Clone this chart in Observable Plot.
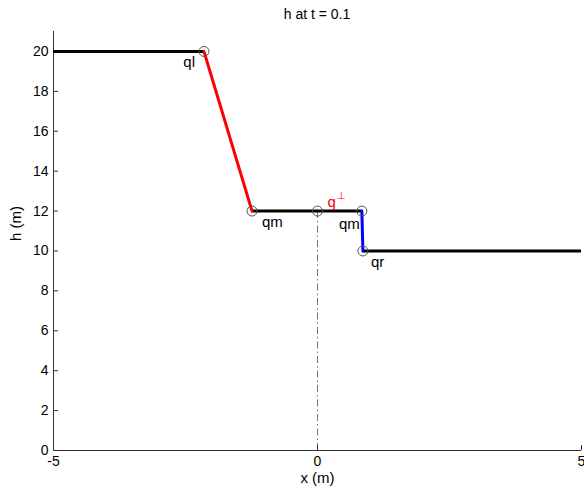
<!DOCTYPE html>
<html>
<head>
<meta charset="utf-8">
<script src="https://cdn.jsdelivr.net/npm/d3@7"></script>
<script src="https://cdn.jsdelivr.net/npm/@observablehq/plot@0.6"></script>
<style>
  body { margin: 0; background: #fff; font-family: "Liberation Sans", Arial, sans-serif; }
  #title { height: 26px; line-height: 28px; margin-left: 53px; width: 528px; text-align: center; font-size: 14px; color: #000; }
</style>
</head>
<body>
<div id="title">h at t = 0.1</div>
<div id="chart"></div>
<script>
// Constant states: left, middle and right plateaus of h
const plateauX1 = [-5, -1.24, 0.86];
const plateauX2 = [-2.15, 0.84, 5];
const plateauH = [20, 12, 10];

// Rarefaction fan (left wave) and shock (right wave)
const fanX = [-2.15, -1.24];
const fanH = [20, 12];
const shockX = [0.84, 0.86];
const shockH = [12, 10];

// Marked states
const pointNames = ["ql", "qm", "q", "qm", "qr"];
const pointX = [-2.15, -1.24, 0, 0.84, 0.86];
const pointH = [20, 12, 12, 12, 10];
const starIndex = 2;

// Axis ticks
const xTicks = [-5, 0, 5];
const yTicks = [0, 2, 4, 6, 8, 10, 12, 14, 16, 18, 20];

// Layout
const W = 584, H = 470;
const mL = 53, mR = 3, mT = 5, mB = 46;
const plotW = W - mL - mR, plotH = H - mT - mB;
const axisColor = "#333";
const fontSize = 14;

const points = pointX.map((x, i) => ({x, h: pointH[i], name: pointNames[i]}));
const fan = fanX.map((x, i) => ({x, h: fanH[i]}));
const shock = shockX.map((x, i) => ({x, h: shockH[i]}));

// label placement relative to each marked point (pixels)
const labelPlace = [
  {dx: -9, dy: 11, anchor: "end", color: "#000"},
  {dx: 10, dy: 11, anchor: "start", color: "#000"},
  {dx: 10, dy: -9, anchor: "start", color: "#f00"},
  {dx: -2, dy: 13, anchor: "end", color: "#000"},
  {dx: 8, dy: 11, anchor: "start", color: "#000"}
];

const labelMarks = points.map((p, i) => Plot.text([p], {
  x: "x", y: "h", text: "name",
  dx: labelPlace[i].dx, dy: labelPlace[i].dy,
  textAnchor: labelPlace[i].anchor, fill: labelPlace[i].color,
  fontSize: 15
}));

const chart = Plot.plot({
  width: W, height: H,
  marginLeft: mL, marginRight: mR, marginTop: mT, marginBottom: mB,
  style: {fontFamily: "'Liberation Sans', Arial, sans-serif", fontSize: fontSize + "px", color: "#000", background: "#fff", overflow: "visible"},
  x: {domain: [-5, 5], ticks: xTicks, tickSize: 0, tickPadding: 6, label: null, tickFormat: d => String(d)},
  y: {domain: [0, 21], ticks: yTicks, tickSize: 0, tickPadding: 5, label: null},
  marks: [
    // dash-dot drop line from the middle state
    Plot.ruleX([points[starIndex]], {x: "x", y1: 0, y2: "h", stroke: "#777", strokeWidth: 1, strokeDasharray: "7,3,1.5,3"}),
    // axis lines and inward ticks
    Plot.ruleY([0], {stroke: axisColor, strokeWidth: 1}),
    Plot.ruleX([-5], {stroke: axisColor, strokeWidth: 1}),
    Plot.tickY(yTicks, {y: d => d, insetRight: plotW - 5, stroke: axisColor}),
    Plot.tickX(xTicks, {x: d => d, insetTop: plotH - 5, stroke: axisColor}),
    // solution pieces
    Plot.ruleY(plateauH, {y: d => d, x1: (d, i) => plateauX1[i], x2: (d, i) => plateauX2[i], stroke: "#000", strokeWidth: 3, strokeLinecap: "butt"}),
    Plot.line(fan, {x: "x", y: "h", stroke: "#f00", strokeWidth: 3}),
    Plot.line(shock, {x: "x", y: "h", stroke: "#00f", strokeWidth: 3}),
    // marked states
    Plot.dot(points, {x: "x", y: "h", r: 5, stroke: "#555", strokeWidth: 1, fill: "none"}),
    ...labelMarks,
    Plot.text([points[starIndex]], {x: "x", y: "h", text: () => "\u22A5", dx: 19, dy: -15, textAnchor: "start", fill: "#f00", fontSize: 10}),
    // axis titles
    Plot.text(["x (m)"], {frameAnchor: "bottom", text: d => d, dy: 32, fontSize: 15}),
    Plot.text(["h (m)"], {frameAnchor: "left", text: d => d, dx: -37, rotate: -90, fontSize: 15})
  ]
});
document.getElementById("chart").appendChild(chart);
</script>
</body>
</html>
